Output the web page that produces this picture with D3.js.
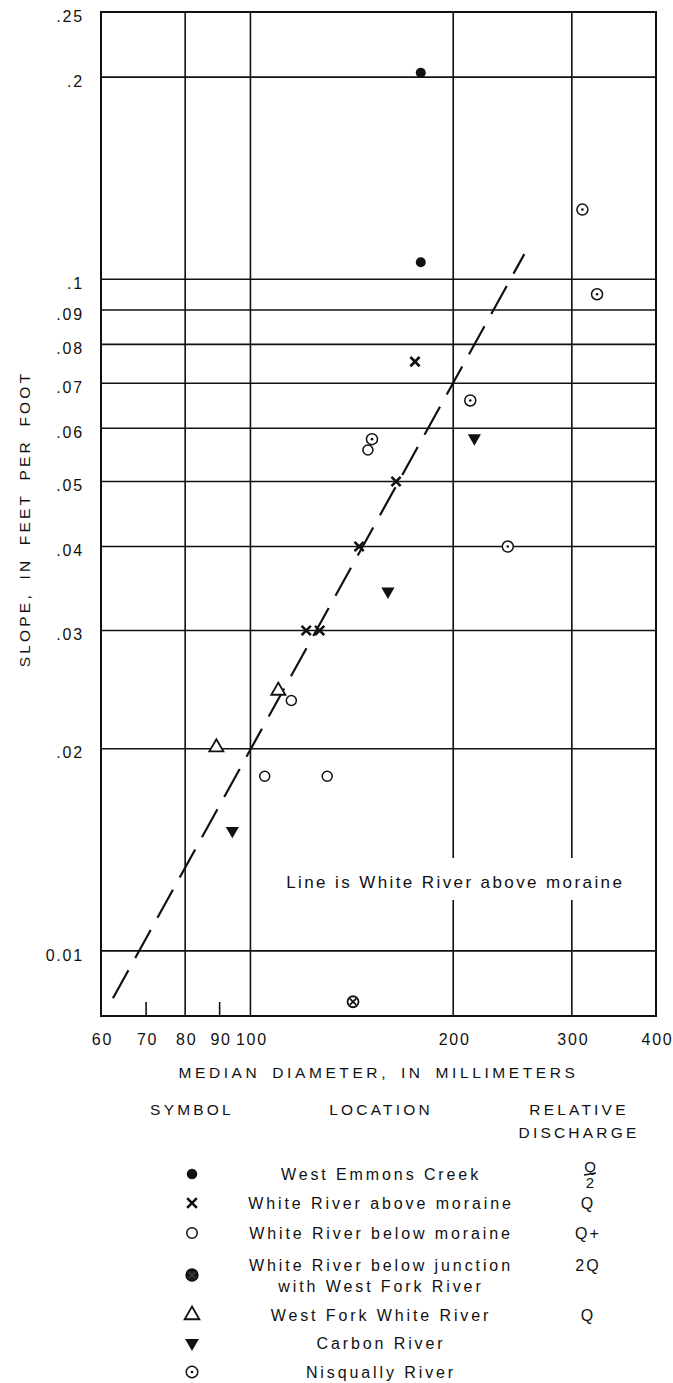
<!DOCTYPE html>
<html>
<head>
<meta charset="utf-8">
<script src="https://cdn.jsdelivr.net/npm/d3@7"></script>
<style>
  html, body { margin: 0; padding: 0; background: #fff; }
  svg { display: block; }
  text { font-family: "Liberation Sans", Arial, Helvetica, sans-serif; fill: #111; }
</style>
</head>
<body>
<svg id="chart" width="673" height="1383"></svg>
<script>
// ---------- data ----------
const xTickValues = [60, 70, 80, 90, 100, 200, 300, 400];
const xTickLabels = ["60", "70", "80", "90", "100", "200", "300", "400"];
const xGridValues = [80, 100, 200, 300];
const xMinorTicks = [70, 90];
const yTickValues = [0.25, 0.2, 0.1, 0.09, 0.08, 0.07, 0.06, 0.05, 0.04, 0.03, 0.02, 0.01];
const yTickLabels = [".25", ".2", ".1", ".09", ".08", ".07", ".06", ".05", ".04", ".03", ".02", "0.01"];
const yGridValues = [0.2, 0.1, 0.09, 0.08, 0.07, 0.06, 0.05, 0.04, 0.03, 0.02, 0.01];

const westEmmonsX = [179, 179];
const westEmmonsY = [0.203, 0.106];
const aboveMoraineX = [175.5, 164.5, 145, 121, 126.7];
const aboveMoraineY = [0.0754, 0.050, 0.040, 0.030, 0.030];
const belowMoraineX = [149.4, 115, 105, 130];
const belowMoraineY = [0.0557, 0.0236, 0.0182, 0.0182];
const belowJunctionX = [142];
const belowJunctionY = [0.0084];
const westForkX = [110, 89];
const westForkY = [0.0244, 0.0201];
const carbonX = [215, 160, 94];
const carbonY = [0.058, 0.0343, 0.0151];
const nisquallyX = [311, 327, 212, 241, 151.5];
const nisquallyY = [0.127, 0.095, 0.066, 0.040, 0.0578];

const fitLineX = [62.5, 255];
const fitLineY = [0.0085, 0.109];

const legendSymbols = ["dot", "cross", "circle", "otimes", "triangle", "down", "odot"];
const legendLocations = [["West Emmons Creek"], ["White River above moraine"], ["White River below moraine"],
  ["White River below junction", "with West Fork River"], ["West Fork White River"], ["Carbon River"], ["Nisqually River"]];
const legendDischarge = ["Q/2", "Q", "Q+", "2Q", "Q", "", ""];

// ---------- layout ----------
const svg = d3.select("#chart");
const pLeft = 101, pRight = 656, pTop = 12, pBottom = 1016;
const x = d3.scaleLog().domain([60, 400]).range([pLeft, pRight]);
const y = d3.scaleLog().domain([0.008, 0.25]).range([pBottom, pTop]);
const ink = "#111";

// gridlines
const g = svg.append("g");
g.selectAll("line.hg").data(yGridValues).enter().append("line")
  .attr("x1", pLeft).attr("x2", pRight).attr("y1", d => y(d)).attr("y2", d => y(d))
  .attr("stroke", ink).attr("stroke-width", 1.6);
g.selectAll("line.vg").data(xGridValues).enter().append("line")
  .attr("x1", d => x(d)).attr("x2", d => x(d)).attr("y1", pTop).attr("y2", pBottom)
  .attr("stroke", ink).attr("stroke-width", 1.6);
g.selectAll("line.mt").data(xMinorTicks).enter().append("line")
  .attr("x1", d => x(d)).attr("x2", d => x(d)).attr("y1", pBottom).attr("y2", pBottom - 14)
  .attr("stroke", ink).attr("stroke-width", 1.6);

// gap for note text
svg.append("rect").attr("x", x(115)).attr("y", 858).attr("width", x(390) - x(115)).attr("height", 42).attr("fill", "#fff");
svg.append("text").attr("x", (x(100) + x(400)) / 2 + 2).attr("y", 882).attr("dy", "0.35em")
  .attr("text-anchor", "middle").style("font-size", "17px").style("letter-spacing", "2.4px")
  .text("Line is White River above moraine");

// frame
svg.append("rect").attr("x", pLeft).attr("y", pTop).attr("width", pRight - pLeft).attr("height", pBottom - pTop)
  .attr("fill", "none").attr("stroke", ink).attr("stroke-width", 2);

// axes (labels only)
const yAxis = d3.axisLeft(y).tickValues(yTickValues).tickSize(0).tickPadding(0)
  .tickFormat((d, i) => yTickLabels[i]);
const ya = svg.append("g").attr("transform", `translate(${pLeft - 17},4)`).call(yAxis);
ya.select(".domain").remove();
ya.selectAll("text").style("font-size", "16px").style("letter-spacing", "1.8px")
  .attr("font-family", null).attr("fill", ink);

const xAxis = d3.axisBottom(x).tickValues(xTickValues).tickSize(0).tickPadding(0)
  .tickFormat((d, i) => xTickLabels[i]);
const xa = svg.append("g").attr("transform", `translate(1,1034)`).call(xAxis);
xa.select(".domain").remove();
xa.selectAll("text").style("font-size", "16px").style("letter-spacing", "1.8px")
  .attr("font-family", null).attr("fill", ink);

// axis titles
svg.append("text").attr("x", (pLeft + pRight) / 2).attr("y", 1073).attr("dy", "0.35em")
  .attr("text-anchor", "middle").style("font-size", "15.5px").style("letter-spacing", "3.6px")
  .style("word-spacing", "4px").text("MEDIAN DIAMETER, IN MILLIMETERS");
svg.append("text").attr("transform", "translate(25,519) rotate(-90)").attr("dy", "0.35em")
  .attr("text-anchor", "middle").style("font-size", "15.5px").style("letter-spacing", "3.2px")
  .style("word-spacing", "5px").text("SLOPE, IN FEET PER FOOT");

// fitted line
svg.append("path")
  .datum(fitLineX.map((d, i) => [d, fitLineY[i]]))
  .attr("d", d3.line().x(d => x(d[0])).y(d => y(d[1])))
  .attr("fill", "none").attr("stroke", ink).attr("stroke-width", 2.2)
  .attr("stroke-dasharray", "32,14");

// symbol drawing
function drawSymbol(sel, type, scale, legend) {
  const s = scale || 1;
  if (type === "dot") {
    sel.append("circle").attr("r", 5 * s).attr("fill", ink);
  } else if (type === "cross") {
    const a = 4.6 * s;
    sel.append("path").attr("d", `M${-a},${-a}L${a},${a}M${-a},${a}L${a},${-a}`)
      .attr("stroke", ink).attr("stroke-width", 2.6).attr("fill", "none");
  } else if (type === "circle") {
    sel.append("circle").attr("r", 5 * s).attr("fill", "#fff").attr("stroke", ink).attr("stroke-width", 1.5);
  } else if (type === "otimes") {
    sel.append("circle").attr("r", 5.5 * s).attr("fill", legend ? "#1a1a1a" : "#fff")
      .attr("stroke", ink).attr("stroke-width", 1.8);
    const a = 3.2 * s;
    sel.append("path").attr("d", `M${-a},${-a}L${a},${a}M${-a},${a}L${a},${-a}`)
      .attr("stroke", legend ? "#444" : ink).attr("stroke-width", legend ? 1.2 : 1.8);
  } else if (type === "triangle") {
    sel.append("path").attr("d", d3.symbol(d3.symbolTriangle, 85 * s * s)())
      .attr("fill", "#fff").attr("stroke", ink).attr("stroke-width", 1.8);
  } else if (type === "down") {
    sel.append("path").attr("d", d3.symbol(d3.symbolTriangle, 75 * s * s)())
      .attr("transform", "rotate(180)").attr("fill", ink);
  } else if (type === "odot") {
    sel.append("circle").attr("r", 5.5 * s).attr("fill", "#fff").attr("stroke", ink).attr("stroke-width", 1.5);
    sel.append("circle").attr("r", 1.3 * s).attr("fill", ink);
  }
}

const seriesList = [
  ["dot", westEmmonsX, westEmmonsY],
  ["cross", aboveMoraineX, aboveMoraineY],
  ["circle", belowMoraineX, belowMoraineY],
  ["otimes", belowJunctionX, belowJunctionY],
  ["triangle", westForkX, westForkY],
  ["down", carbonX, carbonY],
  ["odot", nisquallyX, nisquallyY]
];
seriesList.forEach(([type, xs, ys]) => {
  xs.forEach((xv, i) => {
    const p = svg.append("g").attr("transform", `translate(${x(xv)},${y(ys[i])})`);
    drawSymbol(p, type, 1, false);
  });
});

// ---------- legend ----------
const symX = 192, locX = 381, disX = 587;
const headStyle = s => s.attr("text-anchor", "middle").attr("dy", "0.35em")
  .style("font-size", "15.5px").style("letter-spacing", "3.2px");
headStyle(svg.append("text").attr("x", symX).attr("y", 1110).text("SYMBOL"));
headStyle(svg.append("text").attr("x", locX).attr("y", 1110).text("LOCATION"));
headStyle(svg.append("text").attr("x", disX - 8).attr("y", 1110).text("RELATIVE"));
headStyle(svg.append("text").attr("x", disX - 8).attr("y", 1133).text("DISCHARGE"));

const rowY = [1174, 1203, 1233, 1275, 1315, 1343, 1372];
legendSymbols.forEach((type, i) => {
  const p = svg.append("g").attr("transform", `translate(${symX},${rowY[i]})`);
  drawSymbol(p, type, 1.05, true);
  const lines = legendLocations[i];
  lines.forEach((t, j) => {
    const yy = lines.length === 1 ? rowY[i] : rowY[i] - 10 + j * 21;
    svg.append("text").attr("x", locX).attr("y", yy).attr("dy", "0.35em")
      .attr("text-anchor", "middle").style("font-size", "16px").style("letter-spacing", "2.9px").text(t);
  });
  const dch = legendDischarge[i];
  if (dch === "Q/2") {
    svg.append("text").attr("x", disX + 3).attr("y", rowY[i] - 7).attr("dy", "0.35em")
      .attr("text-anchor", "middle").style("font-size", "15px").text("Q");
    svg.append("line").attr("x1", disX - 3).attr("x2", disX + 9).attr("y1", rowY[i] + 1).attr("y2", rowY[i] - 1)
      .attr("stroke", ink).attr("stroke-width", 1.3);
    svg.append("text").attr("x", disX + 3).attr("y", rowY[i] + 9).attr("dy", "0.35em")
      .attr("text-anchor", "middle").style("font-size", "15px").text("2");
  } else if (dch) {
    const yy = i === 3 ? rowY[i] - 10 : rowY[i];
    svg.append("text").attr("x", disX + 1).attr("y", yy).attr("dy", "0.35em")
      .attr("text-anchor", "middle").style("font-size", "16px").style("letter-spacing", "2px").text(dch);
  }
});
</script>
</body>
</html>
